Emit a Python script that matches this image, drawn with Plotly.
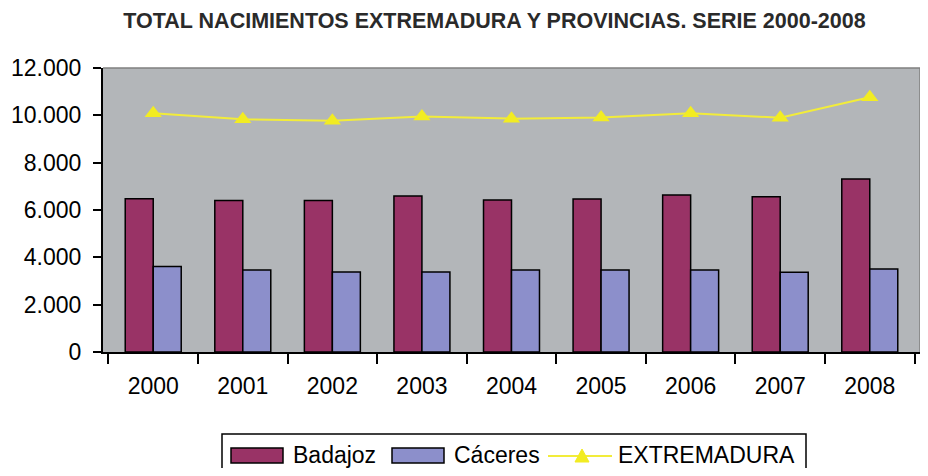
import plotly.graph_objects as go

years = ["2000", "2001", "2002", "2003", "2004", "2005", "2006", "2007", "2008"]
badajoz = [6480, 6400, 6400, 6590, 6420, 6470, 6630, 6560, 7310]
caceres = [3610, 3470, 3380, 3380, 3460, 3460, 3460, 3370, 3510]
extremadura = [10090, 9830, 9770, 9950, 9860, 9910, 10090, 9900, 10760]

C_BAD = "#993366"
C_CAC = "#8C8FCB"
C_EXT = "#F2EC3A"

# The page body has an 8px margin; keep the figure small enough to avoid scrollbars.
OFF = 8
W, H = 928 - 2 * OFF, 476 - 2 * OFF
SL, SR, ST, SB = 103, 920, 68, 352  # plot area in screen pixels
L, T = SL - OFF, ST - OFF
R, B = W - (SR - OFF), H - (SB - OFF)
PW, PH = SR - SL, SB - ST


def px(x):
    return (x - SL) / PW


def py(y):
    return (SB - y) / PH


fig = go.Figure()
fig.add_trace(go.Bar(name="Badajoz", x=years, y=badajoz,
                     marker=dict(color=C_BAD, line=dict(color="#000000", width=1.5))))
fig.add_trace(go.Bar(name="Cáceres", x=years, y=caceres,
                     marker=dict(color=C_CAC, line=dict(color="#000000", width=1.5))))
fig.add_trace(go.Scatter(name="EXTREMADURA", x=years, y=extremadura, mode="lines+markers",
                         line=dict(color=C_EXT, width=2),
                         marker=dict(symbol="triangle-up", size=15, color="#F2EC22")))

font_fam = "Liberation Sans, Arial, sans-serif"
fig.update_layout(
    width=W, height=H,
    margin=dict(l=L, r=R, t=T, b=B, autoexpand=False),
    paper_bgcolor="#FFFFFF",
    plot_bgcolor="#B3B6B9",
    separators=",.",
    barmode="group",
    bargap=0.375,
    bargroupgap=0,
    showlegend=False,
    font=dict(family=font_fam, color="#000000"),
    title=dict(text="<b>TOTAL NACIMIENTOS EXTREMADURA Y PROVINCIAS. SERIE 2000-2008</b>",
               x=(494.5 - OFF) / W, xanchor="center", y=1 - (20.5 - OFF) / H, yanchor="middle",
               font=dict(size=21.5, color="#2A2A2A")),
    xaxis=dict(type="category", showline=True, linecolor="#000000", linewidth=2,
               ticks="outside", tickson="boundaries", ticklen=10, tickwidth=2, tickcolor="#000000",
               tickfont=dict(size=23), ticklabelstandoff=12, showgrid=False, automargin=False),
    yaxis=dict(range=[0, 12000], dtick=2000, tickformat=",", showline=True, linecolor="#000000",
               linewidth=2, ticks="outside", ticklen=8, tickwidth=2, tickcolor="#000000",
               tickfont=dict(size=23), ticklabelstandoff=7, showgrid=False, zeroline=False,
               automargin=False),
)

shapes = [
    # plot-area top/right border
    dict(type="line", xref="paper", yref="paper", x0=0, x1=1, y0=1, y1=1,
         line=dict(color="#7F7F7F", width=1.5)),
    dict(type="line", xref="paper", yref="paper", x0=1, x1=1, y0=0, y1=1,
         line=dict(color="#7F7F7F", width=1.5)),
    # legend box
    dict(type="rect", xref="paper", yref="paper", x0=px(222), x1=px(806), y0=py(434), y1=py(490),
         line=dict(color="#000000", width=1.5), fillcolor="rgba(0,0,0,0)"),
    # legend swatches
    dict(type="rect", xref="paper", yref="paper", x0=px(231), x1=px(283), y0=py(448), y1=py(463),
         line=dict(color="#000000", width=1.5), fillcolor=C_BAD),
    dict(type="rect", xref="paper", yref="paper", x0=px(392), x1=px(444), y0=py(448), y1=py(463),
         line=dict(color="#000000", width=1.5), fillcolor=C_CAC),
    dict(type="line", xref="paper", yref="paper", x0=px(548), x1=px(612), y0=py(456), y1=py(456),
         line=dict(color=C_EXT, width=2)),
    dict(type="path", xref="paper", yref="paper",
         path="M {} {} L {} {} L {} {} Z".format(px(575), py(462), px(589), py(462), px(582), py(449)),
         line=dict(color="#F2EC22", width=1), fillcolor="#F2EC22"),
]
fig.update_layout(shapes=shapes)

for label, x0 in [("Badajoz", 291), ("Cáceres", 452), ("EXTREMADURA", 616)]:
    fig.add_annotation(text=label, xref="paper", yref="paper", x=px(x0), y=py(455),
                       xanchor="left", yanchor="middle", showarrow=False,
                       font=dict(size=23, color="#000000"))

fig.write_html("out.html")
